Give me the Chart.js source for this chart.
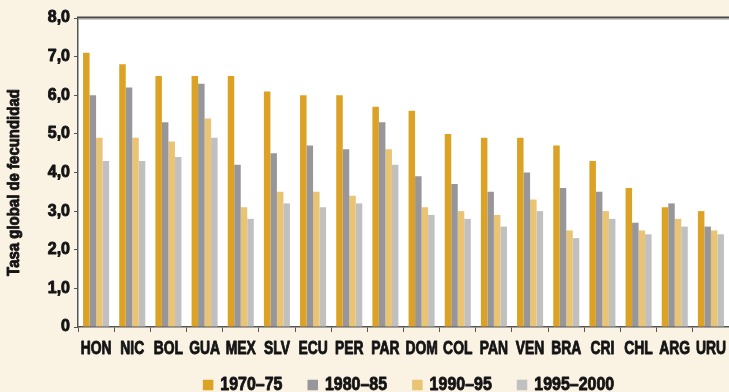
<!DOCTYPE html>
<html>
<head>
<meta charset="utf-8">
<script src="https://cdn.jsdelivr.net/npm/chart.js@4/dist/chart.umd.min.js"></script>
<style>
  html, body { margin: 0; padding: 0; background: #FAF2E3; }
  #wrap { width: 729px; height: 392px; position: relative; }
</style>
</head>
<body>
<div id="wrap"><canvas id="c" width="729" height="392"></canvas></div>
<script>
// Tasa global de fecundidad por país y quinquenio
const countries = ['HON','NIC','BOL','GUA','MEX','SLV','ECU','PER','PAR','DOM','COL','PAN','VEN','BRA','CRI','CHL','ARG','URU'];
const periods = ['1970–75','1980–85','1990–95','1995–2000'];
const tfr1970 = [7.1, 6.8, 6.5, 6.5, 6.5, 6.1, 6.0, 6.0, 5.7, 5.6, 5.0, 4.9, 4.9, 4.7, 4.3, 3.6, 3.1, 3.0];
const tfr1980 = [6.0, 6.2, 5.3, 6.3, 4.2, 4.5, 4.7, 4.6, 5.3, 3.9, 3.7, 3.5, 4.0, 3.6, 3.5, 2.7, 3.2, 2.6];
const tfr1990 = [4.9, 4.9, 4.8, 5.4, 3.1, 3.5, 3.5, 3.4, 4.6, 3.1, 3.0, 2.9, 3.3, 2.5, 3.0, 2.5, 2.8, 2.5];
const tfr1995 = [4.3, 4.3, 4.4, 4.9, 2.8, 3.2, 3.1, 3.2, 4.2, 2.9, 2.8, 2.6, 3.0, 2.3, 2.8, 2.4, 2.6, 2.4];
const yTickLabels = ['0','1,0','2,0','3,0','4,0','5,0','6,0','7,0','8,0'];
const yTitle = 'Tasa global de fecundidad';

const colors = ['#DCA226', '#97979B', '#E8C474', '#C0C0C0'];
const FONT = "'Liberation Sans', Arial, sans-serif";
const INK = '#141414';
const AXIS = '#555555';

// heavy bold text squeezed horizontally to get a condensed face
function drawNarrow(ctx, text, x, y, sx, align) {
  ctx.save();
  ctx.translate(x, y);
  ctx.scale(sx, 1);
  ctx.textAlign = align;
  ctx.textBaseline = 'middle';
  ctx.lineJoin = 'round';
  ctx.lineWidth = 0.9;
  ctx.strokeStyle = ctx.fillStyle;
  ctx.fillText(text, 0, 0);
  ctx.strokeText(text, 0, 0);
  ctx.restore();
}

// white plotting area on cream page, plus the heavy rule along the top
const frame = {
  id: 'frame',
  beforeDraw(chart) {
    const { ctx, chartArea: a } = chart;
    ctx.save();
    ctx.fillStyle = '#FAF2E3';
    ctx.fillRect(0, 0, chart.width, chart.height);
    ctx.fillStyle = '#FFFFFF';
    ctx.fillRect(a.left, a.top, a.right - a.left, a.bottom - a.top);
    ctx.restore();
  },
  afterDraw(chart) {
    const { ctx, chartArea: a } = chart;
    ctx.save();
    ctx.strokeStyle = '#4a4a4a';
    ctx.lineWidth = 2;
    ctx.beginPath();
    ctx.moveTo(a.left - 1, a.top - 0.5);
    ctx.lineTo(a.right, a.top - 0.5);
    ctx.stroke();
    ctx.strokeStyle = '#9a9a9a';
    ctx.lineWidth = 1;
    ctx.beginPath();
    ctx.moveTo(a.left, a.top + 1);
    ctx.lineTo(a.right, a.top + 1);
    ctx.stroke();
    ctx.restore();
  }
};

// axis labels, axis title and legend row
const labelsAndLegend = {
  id: 'labelsAndLegend',
  afterDraw(chart) {
    const { ctx, chartArea: a } = chart;
    const xs = chart.scales.x, ys = chart.scales.y;
    ctx.save();
    ctx.fillStyle = INK;

    ctx.font = 'bold 19px ' + FONT;
    countries.forEach((c, i) => {
      drawNarrow(ctx, c, xs.getPixelForValue(i), 349, 0.73, 'center');
    });

    ctx.font = 'bold 16px ' + FONT;
    yTickLabels.forEach((t, i) => {
      drawNarrow(ctx, t, a.left - 8, ys.getPixelForValue(i), 1.0, 'right');
    });

    ctx.font = 'bold 17px ' + FONT;
    ctx.save();
    ctx.translate(14, (a.top + a.bottom) / 2 + 10);
    ctx.rotate(-Math.PI / 2);
    drawNarrow(ctx, yTitle, 0, 0, 0.88, 'center');
    ctx.restore();

    const ds = chart.data.datasets;
    const box = 10.5, gapBox = 7, gapItem = 25, sx = 0.84;
    ctx.font = 'bold 19px ' + FONT;
    const widths = ds.map(d => ctx.measureText(d.label).width * sx);
    const total = widths.reduce((s, w) => s + box + gapBox + w, 0) + gapItem * (ds.length - 1);
    let x = (a.left + a.right) / 2 + 5 - total / 2;
    const y = 385;
    ds.forEach((d, i) => {
      ctx.fillStyle = d.backgroundColor;
      ctx.fillRect(x, y - box / 2, box, box);
      x += box + gapBox;
      ctx.fillStyle = INK;
      drawNarrow(ctx, d.label, x, y, sx, 'left');
      x += widths[i] + gapItem;
    });
    ctx.restore();
  }
};

const series = [tfr1970, tfr1980, tfr1990, tfr1995];

new Chart(document.getElementById('c'), {
  type: 'bar',
  data: {
    labels: countries,
    datasets: series.map((vals, i) => ({
      label: periods[i],
      data: vals,
      backgroundColor: colors[i],
      borderWidth: 0,
      categoryPercentage: 0.72,
      barPercentage: 1.0
    }))
  },
  plugins: [frame, labelsAndLegend],
  options: {
    responsive: false,
    animation: false,
    layout: { padding: { top: 18, right: 0, bottom: 0, left: 0 } },
    plugins: {
      legend: { display: false },
      tooltip: { enabled: false }
    },
    scales: {
      x: {
        offset: true,
        grid: {
          display: true,
          offset: true,
          drawOnChartArea: false,
          drawTicks: true,
          tickLength: 5,
          color: AXIS,
          lineWidth: 1
        },
        border: { display: true, color: AXIS, width: 1.5 },
        ticks: { display: false, autoSkip: false },
        afterFit(scale) { scale.height = 65; }
      },
      y: {
        min: 0,
        max: 8,
        grid: {
          display: true,
          drawOnChartArea: false,
          drawTicks: true,
          tickLength: 4,
          color: AXIS,
          lineWidth: 1
        },
        border: { display: true, color: AXIS, width: 1.5 },
        ticks: { display: false, stepSize: 1 },
        afterFit(scale) { scale.width = 78; }
      }
    }
  }
});
</script>
</body>
</html>
